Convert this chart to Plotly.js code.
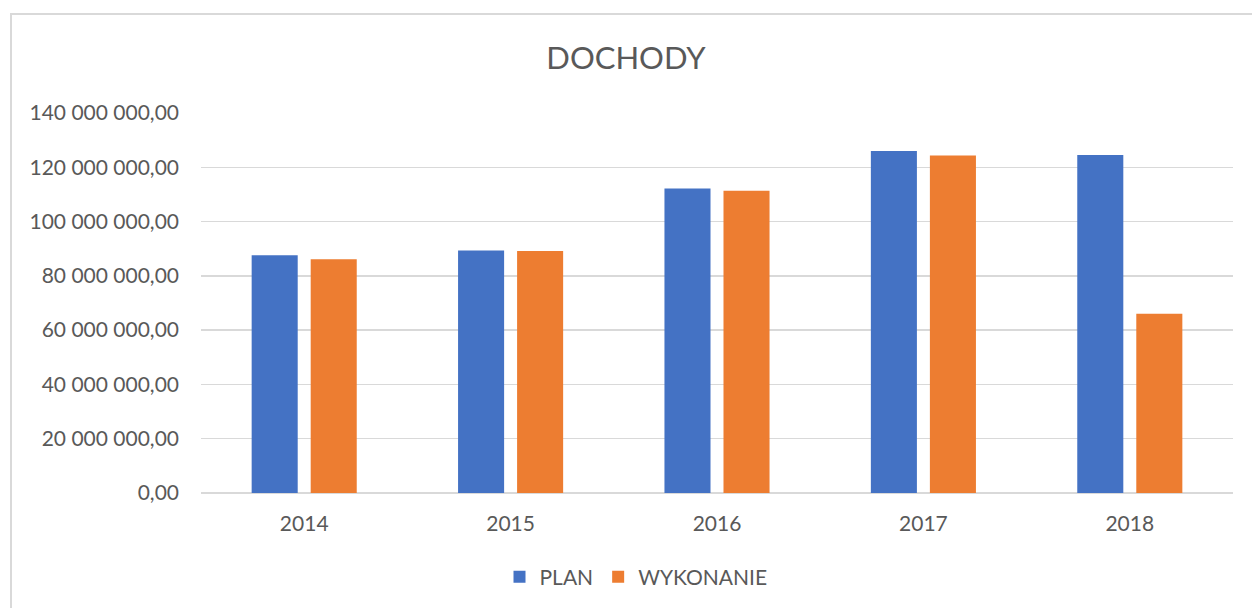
<!DOCTYPE html>
<html>
<head>
<meta charset="utf-8">
<script src="https://cdn.plot.ly/plotly-3.0.1.min.js"></script>
<style>
  html, body { margin: 0; padding: 0; background: #fff; }
  #wrap { position: relative; width: 1252px; height: 608px; overflow: hidden; }
  #chart { width: 1252px; height: 608px; }
  #frame { position: absolute; left: 10px; top: 13px; width: 1300px; height: 700px;
           border: 2px solid #d9d9d9; pointer-events: none; box-sizing: border-box; }
</style>
</head>
<body>
<div id="wrap">
  <div id="chart"></div>
  <div id="frame"></div>
</div>
<script>
const years = ['2014', '2015', '2016', '2017', '2018'];
const plan = [87600000, 89300000, 112200000, 126000000, 124500000];
const wykonanie = [86100000, 89200000, 111400000, 124300000, 66000000];
const seriesNames = ['PLAN', 'WYKONANIE'];
const title = 'DOCHODY';

const textColor = '#595959';
const fontFam = 'Lato, "Open Sans", sans-serif';

const data = [
  { type: 'bar', name: seriesNames[0], x: years, y: plan,
    marker: { color: '#4472C4', line: { width: 0 } } },
  { type: 'bar', name: seriesNames[1], x: years, y: wykonanie,
    marker: { color: '#ED7D31', line: { width: 0 } } }
];

const layout = {
  width: 1252, height: 608,
  margin: { l: 201, r: 19, t: 113, b: 115 },
  paper_bgcolor: 'rgba(0,0,0,0)',
  plot_bgcolor: 'rgba(0,0,0,0)',
  font: { family: fontFam, color: textColor, size: 21 },
  title: { text: title, x: 0.5, xref: 'container', y: 1 - 58/608, yref: 'container',
           yanchor: 'middle', xanchor: 'center',
           font: { family: fontFam, size: 31, color: textColor } },
  barmode: 'group',
  bargap: 0.428,
  bargroupgap: 0.22,
  xaxis: { type: 'category', showgrid: false, zeroline: false, showline: false,
           ticks: '', ticklabelstandoff: 16,
           tickfont: { family: fontFam, size: 21, color: textColor } },
  yaxis: { range: [0, 140000000], dtick: 20000000, tick0: 0,
           tickformat: ',.2f', showgrid: true, gridcolor: '#d9d9d9', gridwidth: 1.5,
           zeroline: true, zerolinecolor: '#d9d9d9', zerolinewidth: 1.5,
           showline: false, ticks: '', ticklabelstandoff: 21,
           tickfont: { family: fontFam, size: 21, color: textColor } },
  separators: ', ',
  showlegend: true,
  legend: { orientation: 'h', xref: 'container', yref: 'container',
            x: 636/1252, y: 1 - 577/608, xanchor: 'center', yanchor: 'middle',
            itemwidth: 30, font: { family: fontFam, size: 21, color: textColor },
            bgcolor: 'rgba(0,0,0,0)' }
};

Plotly.newPlot('chart', data, layout, { displayModeBar: false, staticPlot: true });
</script>
</body>
</html>
